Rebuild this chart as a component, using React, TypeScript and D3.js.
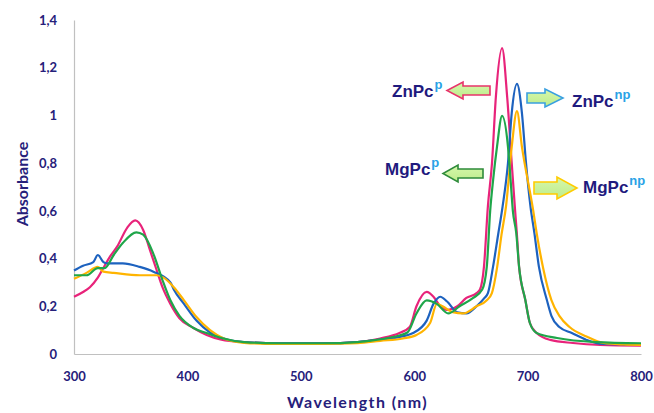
import React, { useRef, useEffect } from 'react';
import * as d3 from 'd3';

// wavelength (nm) / absorbance
const znPcPNm = [300, 308, 314, 321, 327, 332, 338, 347, 354, 361, 367, 373, 378, 385, 393, 405, 417, 430, 450, 480, 520, 550, 570, 587, 596, 602, 611, 617, 623, 629, 638, 646, 655, 658, 661.5, 665, 668.6, 672, 677.5, 682, 686, 689, 690.5, 692.5, 698, 702, 708, 720, 740, 764, 800];
const znPcPAbs = [0.24, 0.26, 0.28, 0.32, 0.37, 0.41, 0.45, 0.53, 0.56, 0.52, 0.435, 0.35, 0.28, 0.21, 0.15, 0.11, 0.08, 0.06, 0.05, 0.045, 0.045, 0.05, 0.065, 0.088, 0.113, 0.2, 0.26, 0.24, 0.2, 0.185, 0.2, 0.235, 0.255, 0.27, 0.365, 0.62, 0.8, 1.077, 1.282, 1.077, 0.8, 0.6, 0.507, 0.365, 0.226, 0.13, 0.088, 0.059, 0.046, 0.038, 0.035];

const znPcNpNm = [300, 308, 317, 321, 326, 329, 343, 358, 370, 385, 388, 397, 408, 420, 432, 450, 480, 520, 550, 570, 585, 599, 611, 617, 623, 629, 638, 646, 655, 662, 665, 669.5, 674, 678, 682.7, 686, 690.6, 695, 698.6, 702.5, 706, 710, 717, 721, 728, 739, 752, 766, 800];
const znPcNpAbs = [0.35, 0.37, 0.385, 0.415, 0.385, 0.38, 0.38, 0.365, 0.345, 0.3, 0.27, 0.21, 0.14, 0.09, 0.065, 0.05, 0.045, 0.045, 0.05, 0.06, 0.07, 0.088, 0.14, 0.21, 0.24, 0.22, 0.175, 0.17, 0.2, 0.235, 0.255, 0.365, 0.5, 0.62, 0.8, 1.01, 1.132, 1.01, 0.8, 0.62, 0.507, 0.365, 0.226, 0.16, 0.113, 0.088, 0.059, 0.042, 0.04];

const mgPcPNm = [300, 311, 321, 327, 335, 343, 355, 361, 370, 378, 385, 393, 405, 417, 430, 450, 480, 520, 550, 560, 580, 594, 602, 611, 620, 630, 640, 652, 660, 664, 667, 669.6, 673, 677.5, 682.7, 685, 687, 690, 692.5, 698, 702, 708, 726, 760, 800];
const mgPcPAbs = [0.33, 0.33, 0.36, 0.36, 0.415, 0.465, 0.51, 0.5, 0.42, 0.31, 0.225, 0.16, 0.11, 0.088, 0.067, 0.05, 0.045, 0.045, 0.05, 0.055, 0.07, 0.09, 0.17, 0.225, 0.21, 0.17, 0.2, 0.235, 0.27, 0.365, 0.6, 0.73, 0.868, 0.998, 0.868, 0.73, 0.6, 0.507, 0.365, 0.226, 0.13, 0.088, 0.067, 0.05, 0.045];

const mgPcNpNm = [300, 311, 321, 326, 335, 358, 373, 379, 388, 397, 408, 420, 432, 450, 480, 520, 550, 570, 590, 602, 614, 620, 625, 634, 643, 655, 664, 668.5, 673, 677, 681, 686, 690.6, 695, 705, 708, 713.5, 721, 728, 737, 752, 767, 785, 800];
const mgPcNpAbs = [0.315, 0.34, 0.365, 0.345, 0.34, 0.33, 0.33, 0.32, 0.28, 0.225, 0.155, 0.1, 0.065, 0.047, 0.042, 0.042, 0.045, 0.055, 0.065, 0.08, 0.13, 0.21, 0.2, 0.175, 0.17, 0.2, 0.225, 0.255, 0.36, 0.5, 0.62, 0.868, 1.018, 0.868, 0.6, 0.507, 0.365, 0.226, 0.16, 0.113, 0.073, 0.046, 0.04, 0.038];

const xTicks = [300, 400, 500, 600, 700, 800];
const yTicks = [0, 0.2, 0.4, 0.6, 0.8, 1, 1.2, 1.4];

const navy = '#26207a';

const series = [
  { nm: znPcPNm, abs: znPcPAbs, color: '#e8237a' },
  { nm: znPcNpNm, abs: znPcNpAbs, color: '#1d62bf' },
  { nm: mgPcNpNm, abs: mgPcNpAbs, color: '#ffb400' },
  { nm: mgPcPNm, abs: mgPcPAbs, color: '#1fa64a' },
];

// label + block arrow for each sample
const tags = [
  { name: 'ZnPc', sup: 'p', tx: 392, ty: 97, tail: 490, tip: 447, cy: 90.5, head: 8.5, shaft: 4.5, hl: 16, stroke: '#e8336b' },
  { name: 'ZnPc', sup: 'np', tx: 572, ty: 107, tail: 527, tip: 563, cy: 98, head: 9, shaft: 5, hl: 18, stroke: '#3aa0e0' },
  { name: 'MgPc', sup: 'p', tx: 385, ty: 175, tail: 483, tip: 443, cy: 173.5, head: 8.5, shaft: 4.5, hl: 15, stroke: '#2e8b3a' },
  { name: 'MgPc', sup: 'np', tx: 583, ty: 193, tail: 534, tip: 577, cy: 188, head: 11, shaft: 6, hl: 20, stroke: '#ffcc00' },
];

const W = 654;
const H = 413;

export default function App() {
  const ref = useRef<SVGSVGElement>(null);

  useEffect(() => {
    const svg = d3.select(ref.current);
    svg.selectAll('*').remove();

    const x = d3.scaleLinear().domain([300, 800]).range([74, 641]);
    const y = d3.scaleLinear().domain([0, 1.4]).range([354, 20]);
    const fmt = d3.formatLocale({ decimal: ',', thousands: '.', grouping: [3], currency: ['', ''] }).format('~g');

    // axes
    const yAxis = svg.append('g')
      .attr('transform', `translate(${x(300)},0)`)
      .call(d3.axisLeft(y).tickValues(yTicks).tickSize(0).tickPadding(17).tickFormat(d => fmt(d as number)));
    const xAxis = svg.append('g')
      .attr('transform', `translate(0,${y(0)})`)
      .call(d3.axisBottom(x).tickValues(xTicks).tickSize(0).tickPadding(18).tickFormat(d => String(d)));

    [xAxis, yAxis].forEach(a => {
      a.select('.domain').attr('stroke', '#c0c0c0').attr('stroke-width', 1.2);
      a.selectAll('text')
        .attr('fill', navy)
        .style('font-family', 'Lato, sans-serif')
        .style('font-weight', 'bold')
        .style('font-size', '13px');
    });

    svg.append('text')
      .attr('transform', `translate(28,184) rotate(-90)`)
      .attr('text-anchor', 'middle')
      .attr('fill', navy)
      .style('font-family', 'Lato, sans-serif')
      .style('font-weight', 'bold')
      .style('font-size', '16px')
      .text('Absorbance');

    svg.append('text')
      .attr('x', (x(300) + x(800)) / 2)
      .attr('y', 408)
      .attr('text-anchor', 'middle')
      .attr('fill', navy)
      .style('font-family', 'Lato, sans-serif')
      .style('font-weight', 'bold')
      .style('font-size', '16px')
      .style('letter-spacing', '1.4px')
      .text('Wavelength (nm)');

    // spectra
    const line = d3.line<[number, number]>()
      .x(d => x(d[0]))
      .y(d => y(d[1]))
      .curve(d3.curveMonotoneX);

    series.forEach(s => {
      const pts = s.nm.map((n, i) => [n, s.abs[i]] as [number, number]);
      svg.append('path')
        .attr('d', line(pts))
        .attr('fill', 'none')
        .attr('stroke', s.color)
        .attr('stroke-width', 2.2)
        .attr('stroke-linejoin', 'round');
    });

    // arrows and labels
    const grad = svg.append('defs').append('linearGradient')
      .attr('id', 'arrowFill').attr('x1', 0).attr('y1', 0).attr('x2', 0).attr('y2', 1);
    grad.append('stop').attr('offset', '0%').attr('stop-color', '#d6f7ab');
    grad.append('stop').attr('offset', '100%').attr('stop-color', '#bdec8c');

    tags.forEach(t => {
      const dir = t.tip > t.tail ? 1 : -1;
      const neck = t.tip - dir * t.hl;
      const pts: [number, number][] = [
        [t.tail, t.cy - t.shaft],
        [neck, t.cy - t.shaft],
        [neck, t.cy - t.head],
        [t.tip, t.cy],
        [neck, t.cy + t.head],
        [neck, t.cy + t.shaft],
        [t.tail, t.cy + t.shaft],
      ];
      svg.append('path')
        .attr('d', d3.line()(pts) + 'Z')
        .attr('fill', 'url(#arrowFill)')
        .attr('stroke', t.stroke)
        .attr('stroke-width', 1.6)
        .attr('stroke-linejoin', 'miter');

      const txt = svg.append('text')
        .attr('x', t.tx)
        .attr('y', t.ty)
        .style('font-family', '"Liberation Sans", Arial, sans-serif')
        .style('font-weight', 'bold')
        .style('font-size', '17px')
        .attr('fill', '#1f1a7e');
      txt.append('tspan').text(t.name);
      txt.append('tspan')
        .attr('dx', 1)
        .attr('dy', -8)
        .attr('fill', '#29a2e6')
        .style('font-size', '13px')
        .text(t.sup);
    });
  }, []);

  return (
    <svg ref={ref} width={W} height={H}
      style={{ position: 'absolute', left: 0, top: 0, background: '#fff' }} />
  );
}
